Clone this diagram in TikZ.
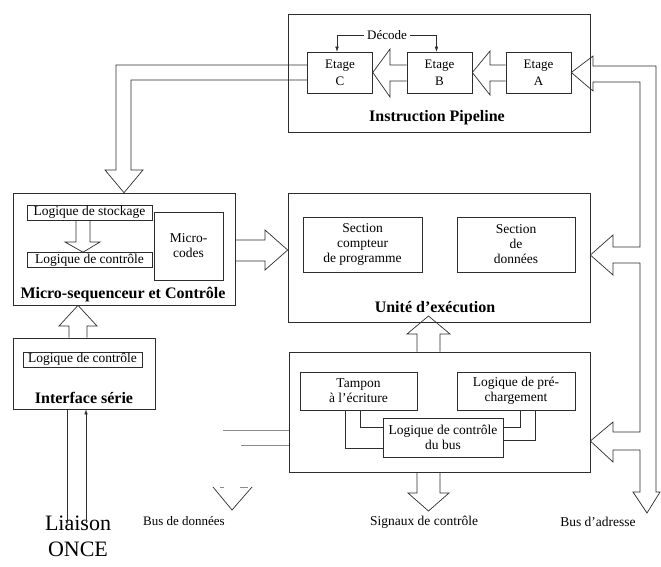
\documentclass[tikz,border=0pt]{standalone}
\usepackage{fontspec}
\setmainfont{Liberation Serif}
\usepackage{tikz}
\usetikzlibrary{arrows.meta,calc,positioning}
\definecolor{inkgray}{RGB}{45, 45, 45}
\definecolor{fadegray}{RGB}{140, 140, 140}

\tikzset{
  unit/.style={draw=inkgray, line width=0.7pt, inner sep=0pt},
  inbox/.style={draw=inkgray, line width=0.6pt, inner sep=0pt, align=center, font=\fontsize{13.5}{15}\selectfont},
  stage/.style={inbox, minimum width=65, minimum height=41, font=\fontsize{13}{17}\selectfont},
  title/.style={inner sep=0pt, font=\fontsize{16}{18}\selectfont\bfseries},
  lbl/.style={inner sep=0pt, font=\fontsize{13.5}{15}\selectfont},
  bus/.style={draw=inkgray, line width=0.7pt, line join=miter},
}

\begin{document}
\begin{tikzpicture}[x=1pt, y=-1pt, >={Latex[length=5pt,width=3.5pt]}]
        \useasboundingbox (0,0) rectangle (661,566);

        % Instruction Pipeline
        \node[unit, minimum width=302, minimum height=118] (pipe) at (439,73) {};
        \node[stage] (etC) at (340,72.5) {Etage\\C};
        \node[stage] (etB) at (439.5,72.5) {Etage\\B};
        \node[stage] (etA) at (538.5,72.5) {Etage\\A};
        \node[title] (pipeT) at (437,118) {Instruction Pipeline};
        \node[lbl, inner sep=3pt, font=\fontsize{13}{15}\selectfont] (decode) at (387,35) {Décode};
        \draw[inkgray, thin, ->] (decode.west) -| ([xshift=-3pt]etC.north);
        \draw[inkgray, thin, ->] (decode.east) -| ([xshift=-3pt]etB.north);
        \draw[bus] (etB.west |- 0,65) -- (390,65) -- (390,49) -- (etC.east) -- (390,97) -- (390,81) -- (etB.west |- 0,81);
        \draw[bus] (etA.west |- 0,65) -- (490,65) -- (490,51) -- (etB.east) -- (490,95) -- (490,81) -- (etA.west |- 0,81);

        % Micro-sequenceur et Controle
        \node[unit, minimum width=222, minimum height=112] (micro) at (124,249) {};
        \node[inbox, minimum width=125, minimum height=15] (stock) at (89.5,212.5) {Logique de stockage};
        \node[inbox, minimum width=125, minimum height=15] (mctl) at (89.5,260) {Logique de contrôle};
        \node[inbox, minimum width=69, minimum height=68] (mcode) at (188.5,246) {Micro-\\codes};
        \node[title] (microT) at (123,295) {Micro-sequenceur et Contrôle};
        \draw[bus] (stock.south -| 76,0) -- (76,242) -- (65,242) -- (mctl.north -| 83,0) -- (100,242) -- (90,242) -- (stock.south -| 90,0);

        % Unite d'execution
        \node[unit, minimum width=302, minimum height=129] (unite) at (439,257.5) {};
        \node[inbox, minimum width=119, minimum height=55] (seccpt) at (362.5,244.5) {Section\\compteur\\de programme};
        \node[inbox, minimum width=118, minimum height=55] (secdon) at (516,244.5) {Section\\de\\données};
        \node[title] (uniteT) at (435,307) {Unité d'exécution};

        % Controle du bus
        \node[unit, minimum width=301, minimum height=120] (lower) at (439.5,412) {};
        \node[inbox, minimum width=117, minimum height=38] (tampon) at (358.5,391) {Tampon\\à l'écriture};
        \node[inbox, minimum width=118, minimum height=38] (prech) at (516,391) {Logique de pré-\\chargement};
        \node[inbox, minimum width=120, minimum height=39, fill=white] (busctl) at (443,437.5) {Logique de contrôle\\du bus};
        \draw[inkgray, line width=0.6pt] (tampon.south -| 345,0) |- (busctl.west |- 0,448);
        \draw[inkgray, line width=0.6pt] (tampon.south -| 360,0) |- (busctl.west |- 0,427);
        \draw[inkgray, line width=0.6pt] (prech.south -| 520,0) |- (busctl.east |- 0,427);
        \draw[inkgray, line width=0.6pt] (prech.south -| 535,0) |- (busctl.east |- 0,440);

        % Interface serie
        \node[unit, minimum width=142, minimum height=71] (iface) at (84,373.5) {};
        \node[inbox, minimum width=119, minimum height=15] (ictl) at (82.5,359.5) {Logique de contrôle};
        \node[title] (ifaceT) at (84,398) {Interface série};
        \node[inner sep=0pt, anchor=north, align=center, font=\fontsize{22}{26}\selectfont] (liaison) at (78,516) {Liaison\\ONCE};
        \draw[inkgray, line width=0.6pt, ->] (iface.south -| 67,0) -- ([yshift=-9pt]liaison.north -| 67,0);
        \draw[inkgray, line width=0.6pt, ->] ([yshift=-7pt]liaison.north -| 86,0) -- (iface.south -| 86,0);

        % Block arrows between units
        \draw[bus] (etC.west |- 0,65) -- (116,65) -- (116,170) -- (105,170) -- (micro.north) -- (143,170) -- (131,170) -- (131,80) -- (etC.west |- 0,80);
        \draw[bus] (micro.east |- 0,240) -- (265,240) -- (265,230) -- (unite.west |- 0,250) -- (265,270) -- (265,261) -- (micro.east |- 0,261);
        \draw[bus] (iface.north -| 69,0) -- (69,326) -- (59,326) -- (micro.south -| 78,0) -- (97,326) -- (87,326) -- (iface.north -| 87,0);
        \draw[bus] (lower.north -| 417,0) -- (417,334) -- (407,334) -- (428.5,316) -- (450,334) -- (440,334) -- (lower.north -| 440,0);

        % Bus de donnees, signaux, bus d'adresse
        \node[lbl, font=\fontsize{13}{15}\selectfont] (busdon) at (184,521) {Bus de données};
        \node[lbl] (sig) at (424,522) {Signaux de contrôle};
        \node[lbl] (busadr) at (598,522) {Bus d'adresse};
        \draw[fadegray, line width=0.6pt] (lower.west |- 0,430) -- (223,430);
        \draw[fadegray, line width=0.6pt] (lower.west |- 0,445) -- (241,445);
        \draw[bus] (213,487) -- (232,510) -- (252,487);
        \draw[fadegray, line width=0.6pt] (220,487) -- (224,487) (240,487) -- (248,487);
        \draw[bus] (lower.south -| 417,0) -- (417,493) -- (408,493) -- (428.5,511) -- (449,493) -- (440,493) -- (lower.south -| 440,0);
        \draw[bus] (etA.east) -- (593,56) -- (593,66) -- (656,66) -- (656,492) -- (660,492) -- (647,513) -- (633,492) -- (640,492)
          -- (640,450) -- (613,450) -- (613,462) -- (lower.east |- 0,441) -- (613,422) -- (613,432) -- (640,432)
          -- (640,263) -- (613,263) -- (613,275) -- (unite.east |- 0,255) -- (613,235) -- (613,247) -- (640,247)
          -- (640,82) -- (593,82) -- (593,91) -- cycle;
    \end{tikzpicture}
\end{document}
